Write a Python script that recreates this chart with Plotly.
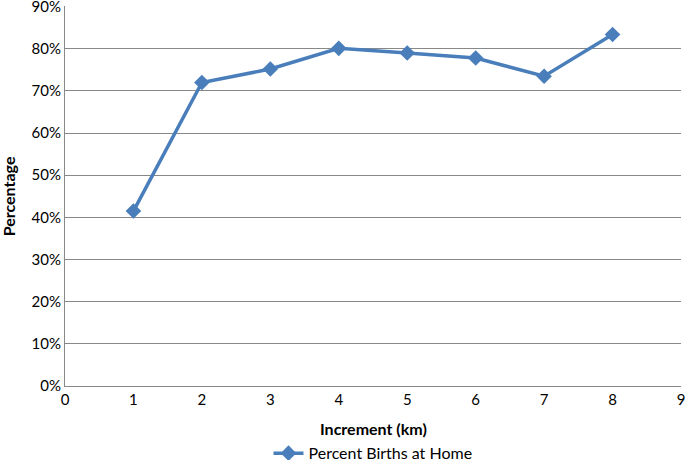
import plotly.graph_objects as go

increment_km = [1, 2, 3, 4, 5, 6, 7, 8]
pct_births_home = [41.5, 72.0, 75.2, 80.1, 79.0, 77.8, 73.5, 83.4]
series_name = "Percent Births at Home"
y_ticks = [0, 10, 20, 30, 40, 50, 60, 70, 80, 90]
y_tick_labels = [f"{v}%" for v in y_ticks]
x_ticks = list(range(0, 10))
x_title = "Increment (km)"
y_title = "Percentage"

blue = "#4A7EBB"
grid = "#888888"
font_family = "Lato, 'Open Sans', sans-serif"

fig = go.Figure()
fig.add_trace(go.Scatter(
    x=increment_km, y=pct_births_home, mode="lines+markers", name=series_name,
    line=dict(color=blue, width=3.5),
    marker=dict(symbol="diamond", size=12, color=blue),
))

fig.update_layout(
    width=685, height=460,
    margin=dict(l=65, r=4, t=6, b=74, autoexpand=False),
    plot_bgcolor="white", paper_bgcolor="white",
    font=dict(family=font_family, size=15, color="#000000"),
    showlegend=True,
    legend=dict(orientation="h", x=0.5, xanchor="center", y=-0.177, yanchor="middle",
                font=dict(size=16)),
    xaxis=dict(range=[0, 9], tickvals=x_ticks, showgrid=False, zeroline=False,
               showline=True, linecolor=grid, linewidth=1, ticks="",
               ticklabeloverflow="allow", automargin=False),
    yaxis=dict(range=[0, 90.15], tickvals=y_ticks, ticktext=y_tick_labels,
               showgrid=True, gridcolor=grid, gridwidth=1, zeroline=False,
               showline=True, linecolor=grid, linewidth=1, ticks="",
               ticklabeloverflow="allow", automargin=False),
    annotations=[
        dict(text=f"<b>{x_title}</b>", xref="paper", yref="paper", x=0.5, y=-0.113,
             xanchor="center", yanchor="middle", showarrow=False, font=dict(size=16)),
        dict(text=f"<b>{y_title}</b>", xref="paper", yref="paper", x=-0.092, y=0.5,
             xanchor="center", yanchor="middle", textangle=-90, showarrow=False,
             font=dict(size=16)),
    ],
)

fig.write_html("out.html", config={"displayModeBar": False},
               post_script="document.body.style.margin='0';document.body.style.overflow='hidden';")
